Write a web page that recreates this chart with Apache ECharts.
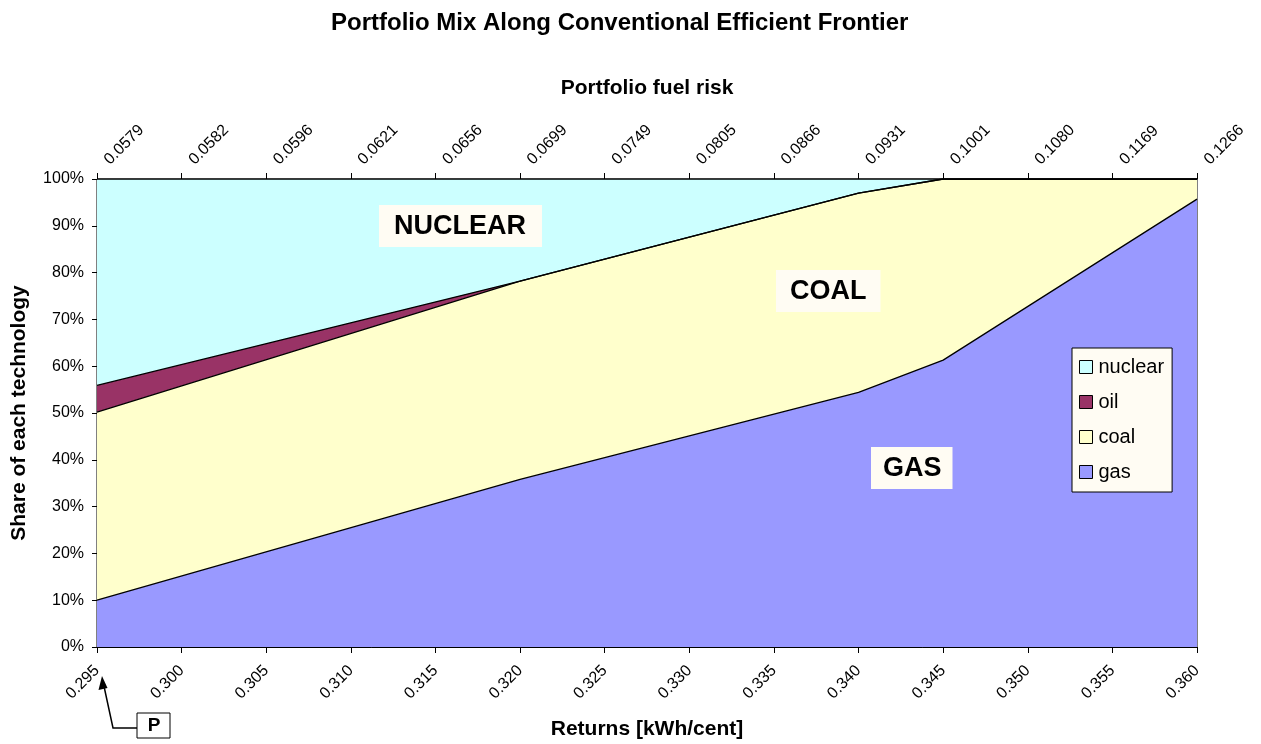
<!DOCTYPE html>
<html>
<head>
<meta charset="utf-8">
<script src="https://cdn.jsdelivr.net/npm/echarts@6/dist/echarts.min.js"></script>
<style>
  html, body { margin: 0; padding: 0; background: #fff; }
  #chart { width: 1261px; height: 744px; }
</style>
</head>
<body>
<div id="chart"></div>
<script>
// returns where the mix changes (kWh/cent)
const returns = [0.295, 0.320, 0.340, 0.345, 0.360]
// shares in % at those returns
const gas = [10.0, 35.8, 54.4, 61.3, 95.7]
const coal = [40.2, 42.4, 42.6, 38.7, 4.3]
const oil = [5.7, 0, 0, 0, 0]
const nuclear = [44.1, 21.8, 3.0, 0, 0]

// top axis: portfolio fuel risk at each 0.005 step of returns
const fuelRisk = ['0.0579', '0.0582', '0.0596', '0.0621', '0.0656', '0.0699', '0.0749',
  '0.0805', '0.0866', '0.0931', '0.1001', '0.1080', '0.1169', '0.1266']

const font = 'Arial, "Liberation Sans", sans-serif'
const c = echarts.init(document.getElementById('chart'))

// stack by hand (value x axis), upper layers drawn first so lower ones cover them
const layers = [gas, coal, oil, nuclear]
const tops = layers.map((_, k) =>
  returns.map((r, i) => {
    let s = 0
    for (let j = 0; j <= k; j++) s += layers[j][i]
    return [r, Math.min(100, +s.toFixed(2))]
  })
)

const mk = (name, data, color) => ({
  name: name,
  type: 'line',
  data: data,
  symbol: 'none',
  color: color,
  itemStyle: { color: color },
  lineStyle: { color: '#000', width: 1.3 },
  areaStyle: { color: color, opacity: 1, origin: 'start' },
  emphasis: { disabled: true },
  animation: false
})

const c_opt = {
  animation: false,
  title: {
    text: 'Portfolio Mix Along Conventional Efficient Frontier',
    left: 326,
    top: 6,
    textStyle: { fontFamily: font, fontSize: 24, fontWeight: 'bold', color: '#000' }
  },
  legend: {
    orient: 'vertical',
    left: 1072,
    top: 348,
    width: 100,
    padding: [9, 8, 10, 7],
    itemGap: 15,
    itemWidth: 13,
    itemHeight: 13,
    icon: 'rect',
    backgroundColor: '#FFFCF3',
    borderColor: '#000',
    borderWidth: 1,
    borderRadius: 0,
    itemStyle: { borderColor: '#000', borderWidth: 1 },
    textStyle: { fontFamily: font, fontSize: 20, color: '#000', padding: [0, 0, 0, 1] },
    data: ['nuclear', 'oil', 'coal', 'gas']
  },
  grid: {
    left: 97,
    right: 64,
    top: 179,
    bottom: 97,
    outerBoundsMode: 'none',
    containLabel: false,
    show: true,
    borderColor: '#000',
    borderWidth: 1
  },
  xAxis: [
    {
      type: 'value',
      position: 'bottom',
      min: 0.295,
      max: 0.360,
      interval: 0.005,
      name: 'Returns [kWh/cent]',
      nameLocation: 'middle',
      nameGap: 72,
      nameTextStyle: { fontFamily: font, fontSize: 21, fontWeight: 'bold', color: '#000' },
      axisLine: { lineStyle: { color: '#000', width: 1 } },
      axisTick: { show: true, length: 6, lineStyle: { color: '#000' } },
      axisLabel: {
        rotate: 45,
        fontFamily: font,
        fontSize: 16,
        color: '#000',
        margin: 21,
        formatter: (v) => v.toFixed(3)
      },
      splitLine: { show: false }
    },
    {
      type: 'value',
      position: 'top',
      min: 0.295,
      max: 0.360,
      interval: 0.005,
      name: 'Portfolio fuel risk',
      nameLocation: 'middle',
      nameGap: 80,
      nameTextStyle: { fontFamily: font, fontSize: 21, fontWeight: 'bold', color: '#000' },
      axisLine: { lineStyle: { color: '#000', width: 1 } },
      axisTick: { show: true, length: 6, lineStyle: { color: '#000' } },
      axisLabel: {
        rotate: -45,
        fontFamily: font,
        fontSize: 16,
        color: '#000',
        margin: 7,
        padding: [0, 0, 0, 14],
        formatter: (v) => fuelRisk[Math.round((v - 0.295) / 0.005)]
      },
      splitLine: { show: false }
    }
  ],
  yAxis: {
    type: 'value',
    min: 0,
    max: 100,
    interval: 10,
    name: 'Share of each technology',
    nameLocation: 'middle',
    nameGap: 67,
    nameTextStyle: { fontFamily: font, fontSize: 21, fontWeight: 'bold', color: '#000' },
    axisLine: { show: true, lineStyle: { color: '#000', width: 1 } },
    axisTick: { show: true, length: 5, lineStyle: { color: '#000' } },
    axisLabel: { fontFamily: font, fontSize: 16, color: '#000', margin: 13, formatter: '{value}%' },
    splitLine: { show: false }
  },
  series: [
    mk('nuclear', tops[3], '#CCFFFF'),
    mk('oil', tops[2], '#993366'),
    mk('coal', tops[1], '#FFFFCC'),
    mk('gas', tops[0], '#9999FF')
  ],
  graphic: [
    {
      type: 'text', left: 379, top: 205, z: 100,
      style: {
        text: 'NUCLEAR', font: 'bold 27px ' + font, fill: '#000',
        backgroundColor: '#FFFCF3', padding: [8, 16, 7, 15]
      }
    },
    {
      type: 'text', left: 776, top: 270, z: 100,
      style: {
        text: 'COAL', font: 'bold 27px ' + font, fill: '#000',
        backgroundColor: '#FFFCF3', padding: [8, 14, 7, 14]
      }
    },
    {
      type: 'text', left: 871, top: 447, z: 100,
      style: {
        text: 'GAS', font: 'bold 27px ' + font, fill: '#000',
        backgroundColor: '#FFFCF3', padding: [8, 11, 7, 12]
      }
    },
    {
      type: 'rect', z: 100,
      shape: { x: 137, y: 713, width: 33, height: 25 },
      style: { fill: '#fff', stroke: '#000', lineWidth: 1 }
    },
    {
      type: 'text', z: 101, x: 154, y: 726,
      style: { text: 'P', font: 'bold 19px ' + font, fill: '#000', align: 'center', verticalAlign: 'middle' }
    },
    {
      type: 'polyline', z: 100,
      shape: { points: [[137, 728], [113, 728], [103.5, 684]] },
      style: { stroke: '#000', lineWidth: 1.5, fill: null }
    },
    {
      type: 'polygon', z: 100,
      shape: { points: [[102, 676], [98.5, 690], [107.5, 688]] },
      style: { fill: '#000' }
    }
  ]
}
c.setOption(c_opt)
</script>
</body>
</html>
